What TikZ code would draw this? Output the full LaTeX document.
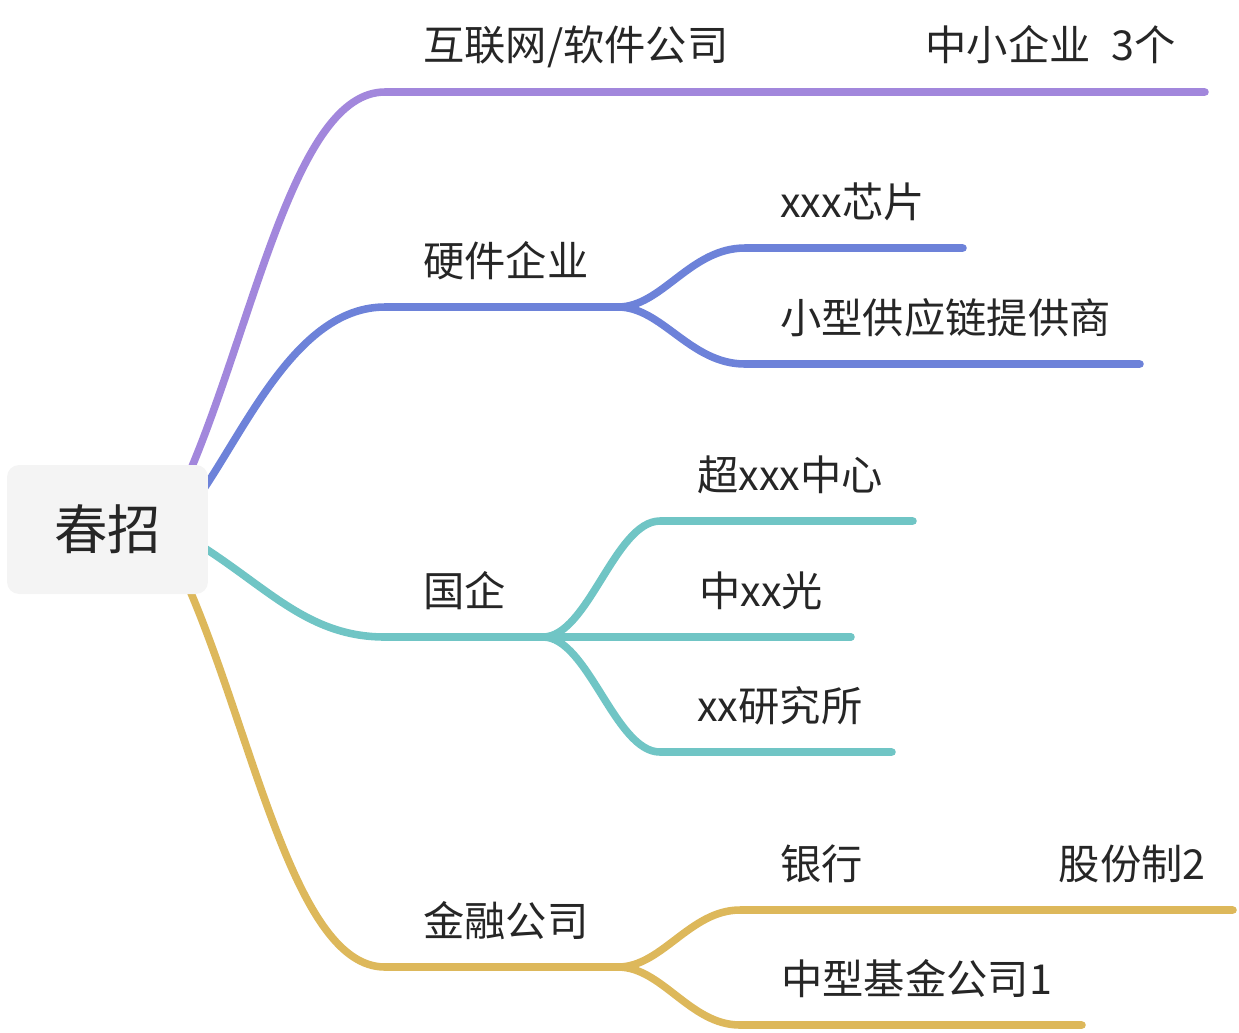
\documentclass[tikz,border=0pt]{standalone}
\usepackage{fontspec}
\setmainfont{Noto Sans CJK SC}
\usetikzlibrary{backgrounds}
\definecolor{cpurple}{HTML}{A287DC}
\definecolor{cblue}{HTML}{6D82D9}
\definecolor{cteal}{HTML}{70C5C5}
\definecolor{cgold}{HTML}{DDB85B}
\definecolor{croot}{HTML}{F4F4F4}
\definecolor{ctext}{HTML}{262626}
\begin{document}
\begin{tikzpicture}[x=0.02cm,y=-0.02cm,
  branch/.style={line width=4.3pt, line cap=round, line join=round},
  lbl/.style={anchor=base west, inner sep=0pt, text=ctext, font=\fontsize{23.5}{28}\selectfont},
  lblr/.style={lbl, anchor=base east},
  rootbox/.style={fill=croot, draw=none, rounded corners=0.24cm, minimum width=4.02cm, minimum height=2.58cm, inner sep=0pt, text=ctext, font=\fontsize{30.4}{36}\selectfont}]
\useasboundingbox (0,0) rectangle (1239,1032);
\node[rootbox] (root) at (107.5,529.5) {春招};

% labels
\node[lbl] (l1) at (423,60) {互联网/软件公司};
\node[lblr] (l1n) at (1176,60) {中小企业\hspace{0.5em}3个};
\node[lbl] (l2) at (423,276) {硬件企业};
\node[lbl] (l21) at (780,217) {xxx芯片};
\node[lbl] (l22) at (780,333) {小型供应链提供商};
\node[lbl] (l3) at (423,606) {国企};
\node[lbl] (l31) at (697,490) {超xxx中心};
\node[lbl] (l32) at (699,606) {中xx光};
\node[lbl] (l33) at (697,721) {xx研究所};
\node[lbl] (l4) at (423,936) {金融公司};
\node[lbl] (l41) at (780,879) {银行};
\node[lblr] (l41n) at (1206,879) {股份制2};
\node[lbl] (l42) at (781,994) {中型基金公司1};

% coordinates
\coordinate (p0) at (188,476);
\coordinate (p1) at (385,92);
\coordinate (p2) at (1205,92);
\coordinate (b0) at (203,490);
\coordinate (b1) at (385,307);
\coordinate (bf) at (618,307);
\coordinate (b2) at (745,248);
\coordinate (b2e) at (963,248);
\coordinate (b3) at (745,364);
\coordinate (b3e) at (1140,364);
\coordinate (t0) at (203,547);
\coordinate (t1) at (385,637);
\coordinate (tf) at (543,637);
\coordinate (t2) at (660,521);
\coordinate (t2e) at (913,521);
\coordinate (t3e) at (851,637);
\coordinate (t4) at (660,752);
\coordinate (t4e) at (892,752);
\coordinate (g0) at (188,586);
\coordinate (g1) at (385,967);
\coordinate (gf) at (618,967);
\coordinate (g2) at (740,910);
\coordinate (g2e) at (1233,910);
\coordinate (g3) at (740,1025);
\coordinate (g3e) at (1082,1025);

\begin{scope}[on background layer]
\draw[branch, cpurple] (p0) .. controls (255,320) and (295,92) .. (p1) -- (p2);
\draw[branch, cblue] (b0) .. controls (250,420) and (300,307) .. (b1) -- (bf);
\draw[branch, cblue] (bf) .. controls (662,307) and (690,248) .. (b2) -- (b2e);
\draw[branch, cblue] (bf) .. controls (662,307) and (690,364) .. (b3) -- (b3e);
\draw[branch, cteal] (t0) .. controls (270,590) and (310,637) .. (t1) -- (tf);
\draw[branch, cteal] (tf) .. controls (588,637) and (615,521) .. (t2) -- (t2e);
\draw[branch, cteal] (tf) -- (t3e);
\draw[branch, cteal] (tf) .. controls (588,637) and (615,752) .. (t4) -- (t4e);
\draw[branch, cgold] (g0) .. controls (255,741) and (295,967) .. (g1) -- (gf);
\draw[branch, cgold] (gf) .. controls (662,967) and (690,910) .. (g2) -- (g2e);
\draw[branch, cgold] (gf) .. controls (662,967) and (690,1025) .. (g3) -- (g3e);
\end{scope}
\end{tikzpicture}
\end{document}
